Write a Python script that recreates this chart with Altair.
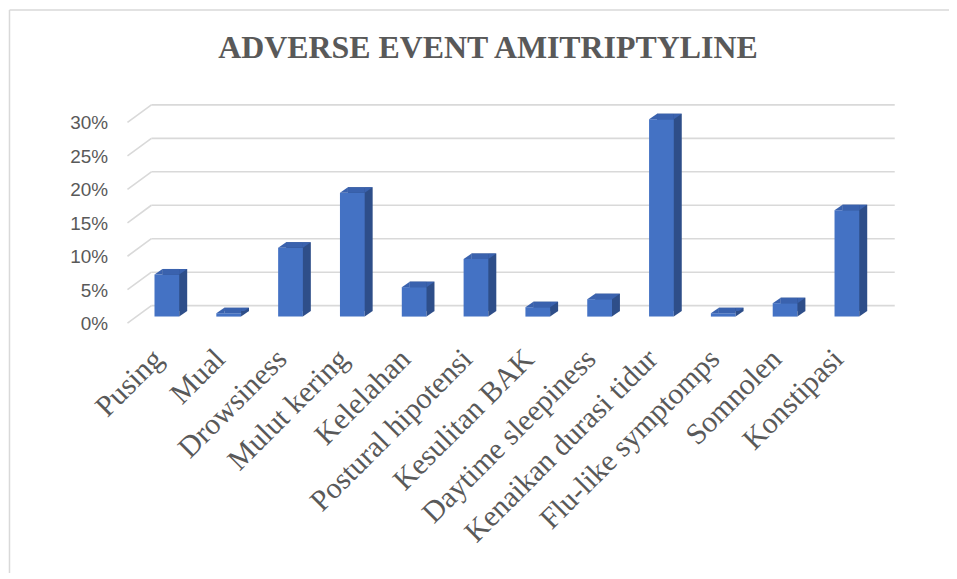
import altair as alt
import pandas as pd

categories = ["Pusing", "Mual", "Drowsiness", "Mulut kering", "Kelelahan",
              "Postural hipotensi", "Kesulitan BAK", "Daytime sleepiness",
              "Kenaikan durasi tidur", "Flu-like symptomps", "Somnolen", "Konstipasi"]
values = [0.063, 0.005, 0.103, 0.185, 0.044, 0.086, 0.014, 0.026, 0.295, 0.005, 0.020, 0.159]
ticks = [0.0, 0.05, 0.10, 0.15, 0.20, 0.25, 0.30]
title_text = "ADVERSE EVENT AMITRIPTYLINE"

df = pd.DataFrame({"cat": categories, "val": values})
tdf = pd.DataFrame({"t": ticks})
bdf = pd.DataFrame({"b": [0]})

# layout (pixels)
W, H = 745, 201.6
PL, PT = 128.5, 107.1
SVG_W, SVG_H = 945, 565
DX, DY = 8, 5.5          # depth of the 3D effect
BW = 0.4 * W / 12        # bar width
HW = BW / 2

FRONT = "#4472C4"
SIDE = "#2E4E89"
TOP = "#3A62AE"
GRID = "#D9D9D9"
TXT = "#595959"

yscale = alt.Scale(domain=[0, 0.30], nice=False, zero=True)
yaxis = alt.Axis(values=ticks, format=".0%", labelFont="Liberation Sans",
                 labelFontSize=19, labelColor=TXT, domain=False, ticks=False,
                 grid=False, labelPadding=28.5, labelOffset=7, title=None)
xenc = alt.X("cat:N", sort=categories,
             scale=alt.Scale(paddingInner=0.6, paddingOuter=0.3),
             axis=alt.Axis(title=None, labelAngle=-45, labelFont="Liberation Serif",
                           labelFontSize=30, labelColor=TXT, domain=False, ticks=False,
                           labelPadding=27, labelOffset=-19, labelLimit=600, grid=False))

# back-wall gridlines
grid_h = alt.Chart(tdf).mark_rule(color=GRID, strokeWidth=1.6, yOffset=-11).encode(
    y=alt.Y("t:Q", scale=yscale, axis=yaxis),
    x=alt.value(15.5), x2=alt.value(762))
grid_d = alt.Chart(tdf).mark_rule(color=GRID, strokeWidth=1.6, yOffset=6.6, y2Offset=-11).encode(
    y=alt.Y("t:Q", scale=yscale, axis=yaxis), y2="t:Q",
    x=alt.value(-8.5), x2=alt.value(15.5))

# bars
side = alt.Chart(df).mark_bar(color=SIDE, xOffset=DX, yOffset=-DY, y2Offset=-DY).encode(
    x=xenc, y=alt.Y("val:Q", scale=yscale, axis=yaxis), y2=alt.Y2(datum=0))
front = alt.Chart(df).mark_bar(color=FRONT).encode(
    x=xenc, y=alt.Y("val:Q", scale=yscale, axis=yaxis))
top_strip = alt.Chart(df).mark_bar(color=TOP, width=BW - DX, xOffset=DX / 2,
                                   yOffset=-DY, y2Offset=0).encode(
    x=xenc, y=alt.Y("val:Q", scale=yscale, axis=yaxis), y2="val:Q")

h = DY / DX
tri_tl = "M -1 %.4f L 1 %.4f L 1 %.4f Z" % (h, -h, h)
tri_tr = "M -1 %.4f L 1 %.4f L -1 %.4f Z" % (-h, -h, h)
tri_br = "M -1 %.4f L -1 %.4f L 1 %.4f Z" % (h, -h, -h)

top_l = alt.Chart(df).mark_point(shape=tri_tl, size=DX * DX, filled=True, opacity=1,
                                 color=TOP, strokeWidth=0,
                                 xOffset=-HW + DX / 2, yOffset=-DY / 2).encode(
    x=xenc, y=alt.Y("val:Q", scale=yscale, axis=yaxis))
top_r = alt.Chart(df).mark_point(shape=tri_tr, size=DX * DX, filled=True, opacity=1,
                                 color=TOP, strokeWidth=0,
                                 xOffset=HW + DX / 2, yOffset=-DY / 2).encode(
    x=xenc, y=alt.Y("val:Q", scale=yscale, axis=yaxis))
bot_r = alt.Chart(df).mark_point(shape=tri_br, size=DX * DX, filled=True, opacity=1,
                                 color=SIDE, strokeWidth=0,
                                 xOffset=HW + DX / 2, yOffset=-DY / 2).encode(
    x=xenc, y=alt.Y(datum=0, scale=yscale, axis=yaxis))

# chart-area border (top and left edges)
border_t = alt.Chart(bdf).mark_rule(color=GRID, strokeWidth=1.5).encode(
    x=alt.value(1.5 - PL), x2=alt.value(SVG_W - PL + 5), y=alt.value(0.75 - PT))
border_l = alt.Chart(bdf).mark_rule(color=GRID, strokeWidth=1.5).encode(
    x=alt.value(1.5 - PL), y=alt.value(0.75 - PT), y2=alt.value(SVG_H - PT + 5))

chart = alt.layer(grid_h, grid_d, side, front, top_strip, top_l, top_r, bot_r,
                  border_t, border_l).properties(
    width=W, height=H,
    autosize=alt.AutoSizeParams(type="none"),
    padding={"left": PL, "top": PT, "right": SVG_W - PL - W, "bottom": SVG_H - PT - H},
    title=alt.Title(title_text, font="Liberation Serif", fontSize=32, fontWeight="bold",
                    color=TXT, anchor="middle", frame="group", baseline="alphabetic",
                    offset=0, dy=81.5, dx=-19),
).configure_view(strokeWidth=0)

chart.save("out.html", embed_options={"renderer": "svg", "actions": False})
